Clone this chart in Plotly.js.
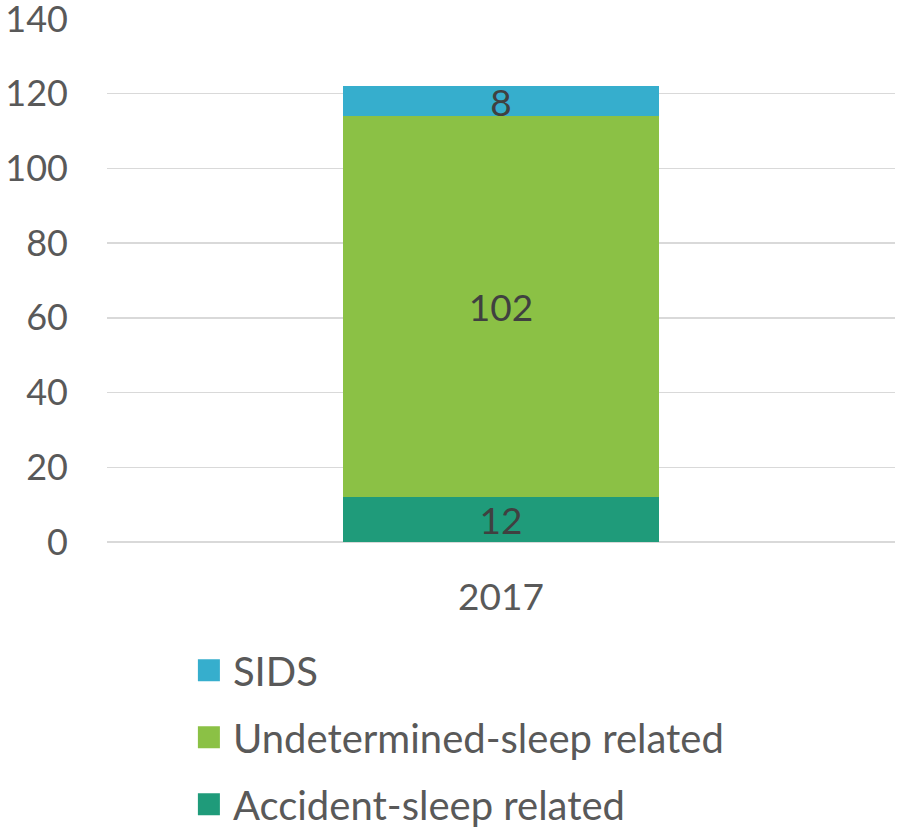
<!DOCTYPE html>
<html>
<head>
<meta charset="utf-8">
<script src="https://cdn.plot.ly/plotly-3.0.1.min.js"></script>
<style>html,body{margin:0;padding:0;background:#fff;}#chart{width:898px;height:829px;}</style>
</head>
<body>
<div id="chart"></div>
<script>
const categories = ['2017'];
const seriesNames = ['Accident-sleep related', 'Undetermined-sleep related', 'SIDS'];
const accident = [12];
const undetermined = [102];
const sids = [8];
const seriesValues = [accident, undetermined, sids];
const seriesColors = ['#1f9b7a', '#8bc145', '#36aecd'];
const legendRanks = [3, 2, 1];
const yTicks = [0, 20, 40, 60, 80, 100, 120, 140];

const FONT = 'Lato, "Open Sans", sans-serif';
const traces = seriesNames.map((name, i) => ({
  type: 'bar',
  name: name,
  x: categories,
  y: seriesValues[i],
  text: seriesValues[i].map(String),
  textposition: 'inside',
  insidetextanchor: 'middle',
  textangle: 0,
  constraintext: 'none',
  textfont: {family: FONT, size: 37, color: '#404040'},
  marker: {color: seriesColors[i], line: {width: 0}},
  legendgroup: 'g' + i,
  legendrank: legendRanks[i],
  hoverinfo: 'none'
}));

const layout = {
  width: 898, height: 829,
  margin: {l: 107, r: 3, t: 19, b: 287, autoexpand: false},
  barmode: 'stack',
  bargap: 0.6,
  paper_bgcolor: '#ffffff',
  plot_bgcolor: '#ffffff',
  font: {family: FONT, color: '#595959', size: 37},
  showlegend: true,
  legend: {
    orientation: 'v',
    traceorder: 'grouped',
    tracegroupgap: 12,
    x: 0.109, xanchor: 'left',
    y: -0.183, yanchor: 'top',
    font: {family: FONT, size: 40, color: '#595959'},
    bgcolor: 'rgba(0,0,0,0)'
  },
  xaxis: {
    type: 'category',
    tickvals: categories,
    ticktext: categories,
    showgrid: false,
    showline: false,
    zeroline: false,
    ticks: '',
    ticklabelstandoff: 30,
    tickfont: {family: FONT, size: 37, color: '#595959'}
  },
  yaxis: {
    range: [0, 140],
    tickvals: yTicks,
    ticktext: yTicks.map(String),
    showgrid: true,
    gridcolor: '#d9d9d9',
    gridwidth: 1.5,
    zeroline: true,
    zerolinecolor: '#d9d9d9',
    zerolinewidth: 1.5,
    showline: false,
    ticks: '',
    ticklabelstandoff: 38,
    ticklabeloverflow: 'allow',
    tickfont: {family: FONT, size: 36, color: '#595959'}
  }
};

Plotly.newPlot('chart', traces, layout, {displayModeBar: false, staticPlot: true}).then(gd => {
  gd.querySelectorAll('.legend .legendpoints path').forEach(p => {
    p.setAttribute('d', 'M7,11H-15V-11H7Z');
  });
});
</script>
</body>
</html>
